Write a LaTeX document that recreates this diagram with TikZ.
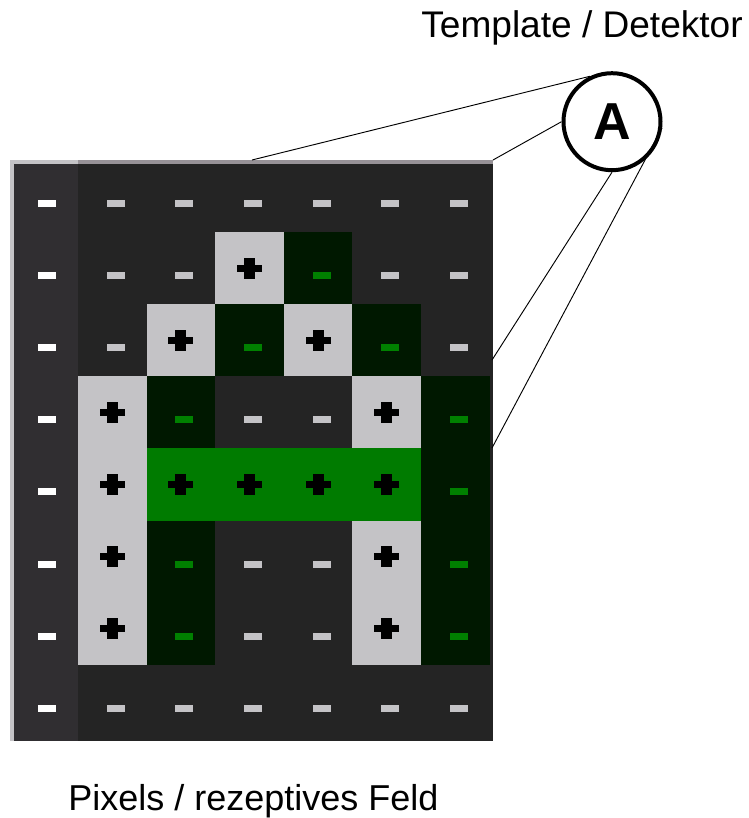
\documentclass[tikz,border=0pt]{standalone}
\usepackage{fontspec}
\setmainfont{Liberation Sans}
\usepackage{tikz}

\definecolor{cellbg}{HTML}{242424}
\definecolor{colzero}{HTML}{302E31}
\definecolor{lightcell}{HTML}{C4C3C6}
\definecolor{edgegray}{HTML}{979297}
\definecolor{darkgreen}{HTML}{001800}
\definecolor{bandgreen}{HTML}{007B00}
\definecolor{markgreen}{HTML}{008000}

\tikzset{
	plusmark/.pic={
		\fill (-12.5, -3.5) rectangle (12.5, 3.5);
		\fill (-5.5, -10.5) rectangle (5.5, 10.5);
	},
	minusmark/.pic={
		\fill (-5.5, 4) rectangle (12.5, 11);
	},
	wire/.style={line width=0.7pt, black},
	caption/.style={font=\fontsize{27}{32}\selectfont, inner sep=0pt},
}

\begin{document}
\begin{tikzpicture}[x=0.75pt, y=-0.75pt]
	\useasboundingbox (0, 0) rectangle (749, 818);

	% field background
	\fill [cellbg] (10, 160) rectangle (493, 741);
	\fill [colzero] (14, 164) rectangle (78, 741);
	\fill [lightcell] (10, 160) rectangle (14, 741);
	\fill [lightcell] (10, 160) rectangle (78, 164);
	\fill [edgegray] (78, 160) rectangle (493, 164);

	% pixels of the letter
	\foreach \c/\r in {3/1, 2/2, 4/2, 1/3, 5/3, 1/4, 1/5, 5/5, 1/6, 5/6} {
		\fill [lightcell] ({9.4 + 68.6*\c}, {160 + 72.1*\r}) rectangle +(68.6, 72.1);
		\pic [fill=black] at ({43.7 + 68.6*\c}, {196 + 72.1*\r}) {plusmark};
	}
	\foreach \c/\r in {4/1, 3/2, 5/2, 2/3, 6/3, 6/4, 2/5, 6/5, 2/6, 6/6} {
		\fill [darkgreen] ({9.4 + 68.6*\c}, {160 + 72.1*\r}) rectangle +(68.6, 72.1);
		\pic [fill=markgreen] at ({43.7 + 68.6*\c}, {196 + 72.1*\r}) {minusmark};
	}

	% the bar of the A
	\fill [bandgreen] ({9.4 + 68.6*2}, {160 + 72.1*4}) rectangle +(68.6*4, 72.1);
	\foreach \c in {2, ..., 5} {
		\pic [fill=black] at ({43.7 + 68.6*\c}, {196 + 72.1*4}) {plusmark};
	}

	% background pixels
	\foreach \c/\r in {1/0, 2/0, 3/0, 4/0, 5/0, 6/0, 1/1, 2/1, 5/1, 6/1, 1/2, 6/2,
		3/3, 4/3, 3/5, 4/5, 3/6, 4/6, 1/7, 2/7, 3/7, 4/7, 5/7, 6/7} {
		\pic [fill=lightcell] at ({43.7 + 68.6*\c}, {196 + 72.1*\r}) {minusmark};
	}
	\foreach \r in {0, ..., 7} {
		\pic [fill=white] at (43.7, {196 + 72.1*\r}) {minusmark};
	}

	% detector
	\node [draw, circle, line width=3pt, minimum size=72.75pt, inner sep=0pt,
		font=\fontsize{39}{39}\selectfont\bfseries] (detector) at (612, 121.7) {A};

	\coordinate (topmid) at (252, 160);
	\coordinate (topright) at (493, 160);
	\coordinate (rightup) at (492, 360);
	\coordinate (rightlow) at (492, 448);

	\draw [wire] (detector.116) -- (topmid);
	\draw [wire] (detector.180) -- (topright);
	\draw [wire] (detector.270) -- (rightup);
	\draw [wire] (detector.-7) -- (rightlow);

	\node [caption, font=\fontsize{27.8}{32}\selectfont, anchor=base east] (tpltext) at (743, 37) {Template / Detektor};
	\node [caption, anchor=base west] (pixtext) at (68, 810) {Pixels / rezeptives Feld};
\end{tikzpicture}
\end{document}
